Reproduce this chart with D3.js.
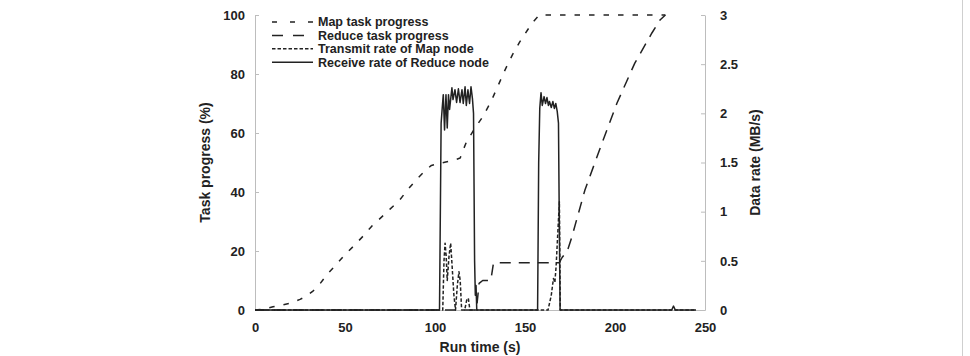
<!DOCTYPE html>
<html>
<head>
<meta charset="utf-8">
<script src="https://cdn.jsdelivr.net/npm/d3@7"></script>
<style>
  body { margin: 0; background: #fff; }
  svg text { font-family: "Liberation Sans", Arial, Helvetica, sans-serif; font-weight: bold; fill: #222; }
</style>
</head>
<body>
<div id="chart"></div>
<script>
// run time (s) vs task progress (%)
const mapProgress = [
  [0, 0], [5, 0.3], [10, 1.1], [15, 1.7], [20, 2.4], [25, 3.6], [28, 4.5], [32, 6.3], [36, 8.8],
  [40, 12], [45, 15.3], [50, 18.8], [55, 21.8], [60, 25], [65, 28.5], [70, 31.3], [75, 34.2],
  [80, 37], [85, 40.9], [90, 44.4], [95, 47.5], [98, 49], [102, 49.6], [106, 50.2], [110, 50.7],
  [114, 51.5], [115.5, 54], [117.5, 57], [122, 61.5], [126.5, 65.5], [131, 70.5], [135, 76],
  [139, 81.5], [143, 86.5], [147, 90.8], [151.5, 95], [155, 98], [158, 100], [228, 100]
];
const reduceProgress = [
  [0, 0], [123, 0], [124.5, 9], [126.5, 10], [131, 10], [132.5, 16], [169, 16], [170.6, 17.8],
  [173.5, 20], [176, 24.7], [183.3, 40.7], [192.8, 56.6], [201, 70], [211, 83.7], [220.5, 93.9],
  [225, 98.3], [228, 100]
];
// run time (s) vs data rate (MB/s)
const transmitRate = [
  [0, 0], [104.3, 0], [105, 0.5], [105.6, 0.68], [106.2, 0.55], [106.8, 0.3], [107.8, 0.55],
  [108.7, 0.68], [109.5, 0.45], [110.5, 0.15], [111.4, 0], [112.4, 0.25], [113.3, 0.39],
  [114, 0.3], [114.8, 0], [116.5, 0], [117.6, 0.1], [118.5, 0.12], [119.4, 0], [162.8, 0],
  [164.6, 0.15], [165.8, 0.32], [166.6, 0.28], [167.3, 0.45], [169.1, 1.1], [169.6, 0], [245, 0]
];
const receiveRate = [
  [0, 0], [102.5, 0], [103.4, 1.9], [104, 2.05], [104.6, 2.19], [105.3, 1.83], [106.1, 2.19],
  [106.8, 1.85], [107.5, 2.19], [108.1, 2.04], [109.4, 2.26], [110, 2.14], [111.1, 2.24],
  [112, 2.11], [113, 2.25], [113.9, 2.11], [115, 2.24], [115.7, 2.1], [116.7, 2.27], [117.4, 2.08],
  [118.3, 2.24], [119.2, 2.1], [120, 2.27], [120.8, 2.15], [121.4, 2.0], [122, 0.5], [122.4, 0.15],
  [122.8, 0.25], [123.2, 0], [157, 0], [157.6, 1.5], [158.2, 2.05], [158.9, 2.21], [159.6, 2.08],
  [160.6, 2.17], [161.4, 2.1], [162.2, 2.16], [163, 2.08], [163.6, 2.12], [164.6, 2.06],
  [165.5, 2.12], [166.3, 2.05], [167.1, 2.1], [167.9, 2.02], [168.6, 1.9], [169.1, 0.8],
  [169.5, 0], [231.5, 0], [232.5, 0.04], [233.5, 0], [245, 0]
];

const xTicks = [0, 50, 100, 150, 200, 250];
const yTicks = [0, 20, 40, 60, 80, 100];
const y2Ticks = [0, 0.5, 1, 1.5, 2, 2.5, 3];

const legendLabels = ["Map task progress", "Reduce task progress", "Transmit rate of Map node", "Receive rate of Reduce node"];

const width = 970, height = 356;
const margin = { top: 15, right: 265, bottom: 46, left: 255 };
const innerW = width - margin.left - margin.right,
      innerH = height - margin.top - margin.bottom;

const svg = d3.select('#chart').append('svg')
    .attr('width', width)
    .attr('height', height);

// thin frame edge at the right of the figure
svg.append('line')
    .attr('x1', 962.5).attr('x2', 962.5)
    .attr('y1', 0).attr('y2', height)
    .attr('stroke', '#cfcfcf');

const g = svg.append('g')
    .attr('transform', `translate(${margin.left},${margin.top})`);

const x = d3.scaleLinear().domain([0, 250]).range([0, innerW]);
const y = d3.scaleLinear().domain([0, 100]).range([innerH, 0]);
const y2 = d3.scaleLinear().domain([0, 3]).range([innerH, 0]);

// axes
const axisColor = '#bdbdbd';

const yAxis = g.append('g')
    .call(d3.axisLeft(y).tickValues(yTicks).tickSizeInner(-4).tickSizeOuter(0).tickPadding(10));
const y2Axis = g.append('g')
    .attr('transform', `translate(${innerW},0)`)
    .call(d3.axisRight(y2).tickValues(y2Ticks).tickFormat(d3.format('')).tickSizeInner(-4).tickSizeOuter(0).tickPadding(15));
const xAxis = g.append('g')
    .attr('transform', `translate(0,${innerH})`)
    .call(d3.axisBottom(x).tickValues(xTicks).tickSize(0).tickPadding(13));

[yAxis, y2Axis].forEach(a => {
    a.select('.domain').attr('stroke', axisColor);
    a.selectAll('.tick line').attr('stroke', axisColor);
});
xAxis.select('.domain').attr('stroke', axisColor);
[yAxis, y2Axis, xAxis].forEach(a => {
    a.selectAll('text').style('font-size', '13px').attr('fill', '#222');
});

// axis titles
g.append('text')
    .attr('transform', `translate(${-50},${innerH / 2}) rotate(-90)`)
    .attr('text-anchor', 'middle')
    .attr('dy', '0.35em')
    .style('font-size', '14px')
    .text('Task progress (%)');

g.append('text')
    .attr('transform', `translate(${innerW + 50},${innerH / 2}) rotate(-90)`)
    .attr('text-anchor', 'middle')
    .attr('dy', '0.35em')
    .style('font-size', '14px')
    .text('Data rate (MB/s)');

g.append('text')
    .attr('x', innerW / 2)
    .attr('y', innerH + 37)
    .attr('dy', '0.35em')
    .attr('text-anchor', 'middle')
    .style('font-size', '14px')
    .text('Run time (s)');

// series
const lineL = d3.line().x(d => x(d[0])).y(d => y(d[1]));
const lineR = d3.line().x(d => x(d[0])).y(d => y2(d[1]));

const series = [
  { data: mapProgress, line: lineL, dash: '5.5,9' },
  { data: reduceProgress, line: lineL, dash: '11,8' },
  { data: transmitRate, line: lineR, dash: '3.5,2' },
  { data: receiveRate, line: lineR, dash: null }
];

g.selectAll('.series')
    .data(series)
    .enter().append('path')
    .attr('class', 'series')
    .attr('d', d => d.line(d.data))
    .attr('fill', 'none')
    .attr('stroke', '#222')
    .attr('stroke-width', 1.5)
    .attr('stroke-linejoin', 'round')
    .attr('stroke-dasharray', d => d.dash);

// legend
const legend = g.append('g').attr('transform', 'translate(17,7)');
const legendDash = ['5,13', '11,10', '3.5,2', null];
legendLabels.forEach((label, i) => {
    const row = legend.append('g').attr('transform', `translate(0,${i * 13.4})`);
    row.append('line')
        .attr('x1', 0).attr('x2', 41)
        .attr('stroke', '#222')
        .attr('stroke-width', 1.5)
        .attr('stroke-dasharray', legendDash[i]);
    row.append('text')
        .attr('x', 46)
        .attr('dy', '0.35em')
        .style('font-size', '12.5px')
        .text(label);
});
</script>
</body>
</html>
